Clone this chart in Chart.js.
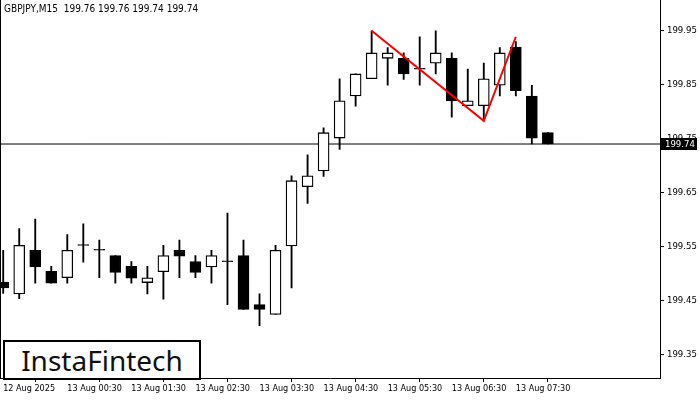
<!DOCTYPE html>
<html><head><meta charset="utf-8">
<script src="https://cdn.jsdelivr.net/npm/chart.js@4"></script>
<style>
body{margin:0;background:#fff;font-family:"DejaVu Sans",sans-serif}
#wrap{position:relative;width:700px;height:400px}
#title{position:absolute;left:4px;top:3px;font-size:10px;color:#000;font-family:"DejaVu Sans Condensed","DejaVu Sans"}
#logo{position:absolute;left:3px;top:340px;width:194px;height:36px;border:2px solid #000;background:#fff;font-family:"Noto Sans",sans-serif;font-size:28px;line-height:36px;text-align:center;color:#111}
</style></head><body>
<div id="wrap"><canvas id="c" width="700" height="400"></canvas>
<div id="title">GBPJPY,M15&nbsp; 199.76 199.76 199.74 199.74</div>
<div id="logo">InstaFintech</div></div>
<script>
const timeLabels=["12 Aug 2025","13 Aug 00:30","13 Aug 01:30","13 Aug 02:30","13 Aug 03:30","13 Aug 04:30","13 Aug 05:30","13 Aug 06:30","13 Aug 07:30"];
const opens =[199.484,199.462,199.543,199.504,199.492,199.552,199.543,199.533,199.513,199.483,199.503,199.543,199.522,199.512,199.522,199.533,199.442,199.424,199.551,199.661,199.690,199.751,199.829,199.861,199.899,199.899,199.879,199.890,199.899,199.811,199.811,199.849,199.920,199.829,199.761];
const closes=[199.473,199.552,199.512,199.482,199.543,199.552,199.543,199.502,199.491,199.492,199.533,199.532,199.502,199.533,199.522,199.433,199.433,199.543,199.672,199.681,199.761,199.820,199.870,199.909,199.909,199.870,199.879,199.909,199.820,199.820,199.861,199.909,199.839,199.751,199.740];
const highs =[199.543,199.583,199.601,199.513,199.572,199.592,199.562,199.533,199.522,199.513,199.552,199.562,199.533,199.543,199.612,199.562,199.462,199.552,199.681,199.720,199.770,199.861,199.870,199.950,199.919,199.909,199.939,199.950,199.909,199.879,199.890,199.919,199.930,199.849,199.761];
const lows  =[199.463,199.453,199.482,199.482,199.482,199.521,199.492,199.482,199.482,199.462,199.452,199.492,199.492,199.482,199.442,199.433,199.403,199.424,199.473,199.630,199.680,199.730,199.810,199.861,199.849,199.860,199.849,199.870,199.790,199.811,199.783,199.829,199.829,199.740,199.740];
const patternX=[23,30,32];
const patternY=[199.950,199.783,199.939];
const priceTicks=[199.35,199.45,199.55,199.65,199.75,199.85,199.95];
const lastPrice=199.74;

const bodies=opens.map((o,i)=>({x:i,y:[o,Math.abs(closes[i]-o)<0.001?o+0.0015:closes[i]]}));
const wicks=highs.map((h,i)=>({x:i,y:[lows[i],h]}));
const bodyColors=opens.map((o,i)=>closes[i]>o+0.0001?'#fff':'#000');

const priceBox={id:'pb',afterDraw(ch){const y=ch.scales.y,ctx=ch.ctx,py=y.getPixelForValue(lastPrice),x0=ch.chartArea.right;
ctx.save();ctx.fillStyle='#000';ctx.fillRect(x0+1,py-6,36,12);ctx.fillStyle='#fff';ctx.font='9.5px "DejaVu Sans Condensed","DejaVu Sans"';ctx.textBaseline='middle';ctx.fillText(lastPrice.toFixed(2),x0+5,py+0.5);ctx.restore();}};

new Chart(document.getElementById('c'),{
 type:'bar',
 data:{datasets:[
  {type:'line',data:[{x:-1,y:lastPrice},{x:45,y:lastPrice}],borderColor:'#000',borderWidth:1,pointRadius:0,order:5},
  {data:wicks,backgroundColor:'#000',barThickness:1.2,grouped:false,order:3},
  {data:bodies,backgroundColor:bodyColors,borderColor:'#000',borderWidth:1.3,borderSkipped:false,barThickness:11,grouped:false,order:2},
  {type:'line',data:patternX.map((x,i)=>({x,y:patternY[i]})),borderColor:'#ff0000',borderWidth:2,pointRadius:0,order:1}
 ]},
 options:{responsive:false,animation:false,
  plugins:{legend:{display:false},tooltip:{enabled:false}},
  scales:{
   x:{type:'linear',min:-0.2,max:41,offset:false,
     afterBuildTicks(s){s.ticks=timeLabels.map((_,i)=>({value:i*4}));},
     ticks:{autoSkip:false,maxRotation:0,font:{size:9,family:'"DejaVu Sans Condensed", "DejaVu Sans"'},color:'#000',padding:1,align:'start',
       callback:(v)=>timeLabels[v/4]},
     grid:{drawOnChartArea:false,tickLength:4,color:'#000'},border:{color:'#000'},
     afterFit(s){s.height=22;}},
   y:{position:'right',min:199.306,max:199.991,
     afterBuildTicks(s){s.ticks=priceTicks.map(v=>({value:v}));},
     ticks:{font:{size:9.5,family:'"DejaVu Sans Condensed", "DejaVu Sans"'},color:'#000',padding:3,callback:v=>v.toFixed(2)},
     grid:{drawOnChartArea:false,tickLength:4,color:'#000'},border:{color:'#000'},
     afterFit(s){s.width=40;}}
  }},
 plugins:[priceBox,{id:'frame',afterDraw(ch){const a=ch.chartArea,c=ch.ctx;c.save();c.strokeStyle='#000';c.lineWidth=1;c.beginPath();c.moveTo(a.left+0.5,0);c.lineTo(a.left+0.5,a.bottom);c.moveTo(a.right+0.5,0);c.lineTo(a.right+0.5,a.top);c.stroke();c.restore();}}]
});
</script></body></html>
